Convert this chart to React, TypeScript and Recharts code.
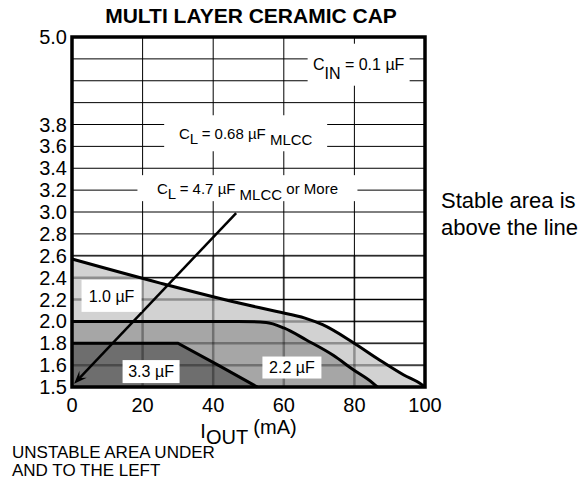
import React from "react";
import {
  ComposedChart,
  Area,
  XAxis,
  YAxis,
  CartesianGrid,
  ReferenceLine,
  ReferenceArea,
  ReferenceDot,
} from "recharts";

const currentTicks = [0, 20, 40, 60, 80, 100];
// the chart's vertical scale is not linear: every gridline is one equal step
const voltTicks = [1.5, 1.6, 1.8, 2.0, 2.2, 2.4, 2.6, 2.8, 3.0, 3.2, 3.4, 3.6, 3.8, 4.1, 4.4, 4.7, 5.0];
const voltLabels = ["1.5", "1.6", "1.8", "2.0", "2.2", "2.4", "2.6", "2.8", "3.0", "3.2", "3.4", "3.6", "3.8", "", "", "", "5.0"];

// unstable region edges, [I_OUT mA, V]
const cap1u0 = [[0, 2.57], [25, 2.35], [47, 2.17], [58, 2.09], [66, 2.03], [71, 1.97], [79.5, 1.81], [87, 1.65], [94, 1.555], [99, 1.512], [100, 1.5]];
const cap2u2 = [[0, 2.0], [47, 2.0], [55, 1.99], [60, 1.94], [66.4, 1.83], [74, 1.69], [79.6, 1.58], [85.3, 1.517], [86.5, 1.5]];
const cap3u3 = [[0, 1.8], [30, 1.8], [41.4, 1.6], [52.5, 1.5]];
const arrowPts = [[46.5, 2.99], [0.6, 1.515]];

const FONT = "'Liberation Sans', Arial, sans-serif";

const pos = (v: number) => {
  for (let k = 0; k < voltTicks.length - 1; k++) {
    const a = voltTicks[k];
    const b = voltTicks[k + 1];
    if (v <= b) return k + (v - a) / (b - a);
  }
  return voltTicks.length - 1;
};
const toRows = (pts: number[][]) => pts.map(([x, v]) => ({ x, y: pos(v) }));

const notes = [
  { x: 81.2, v: 4.62, w: 102, h: 42, fs: 16, parts: [["C", 0], ["IN", 9], [" = 0.1 µF", 0]] },
  { x: 49.2, v: 3.72, w: 163, h: 36, fs: 15, parts: [["C", 0], ["L", 5], [" = 0.68 µF ", 0], ["MLCC", 6]] },
  { x: 49.7, v: 3.218, w: 220, h: 26, fs: 15, parts: [["C", 0], ["L", 5], [" = 4.7 µF ", 0], ["MLCC", 6], [" or More", 0]] },
  { x: 11.2, v: 2.233, w: 60, h: 32, fs: 16, parts: [["1.0 µF", 0]] },
  { x: 22.4, v: 1.5705, w: 57, h: 23, fs: 16, parts: [["3.3 µF", 0]] },
  { x: 62.3, v: 1.589, w: 59, h: 22, fs: 16, parts: [["2.2 µF", 0]] },
];

const noteShape = (n: any) => (props: any) => {
  const { cx, cy } = props;
  let prev = 0;
  return (
    <g>
      <rect x={cx - n.w / 2} y={cy - n.h / 2} width={n.w} height={n.h} fill="#fff" />
      <text x={cx} y={cy + n.fs * 0.36} textAnchor="middle" fontSize={n.fs} fill="#000" style={{ whiteSpace: "pre" }}>
        {n.parts.map(([s, off]: any, i: number) => {
          const dy = off - prev;
          prev = off;
          return (
            <tspan key={i} dy={dy}>
              {s}
            </tspan>
          );
        })}
      </text>
    </g>
  );
};

const ArrowShape = (props: any) => {
  const { x1, y1, x2, y2 } = props;
  const ang = Math.atan2(y2 - y1, x2 - x1);
  const len = 13;
  const wid = 5;
  const bx = x2 - len * Math.cos(ang);
  const by = y2 - len * Math.sin(ang);
  const px = -Math.sin(ang) * wid;
  const py = Math.cos(ang) * wid;
  const nx = x2 - len * 0.6 * Math.cos(ang);
  const ny = y2 - len * 0.6 * Math.sin(ang);
  return (
    <g>
      <line x1={x1} y1={y1} x2={nx} y2={ny} stroke="#000" strokeWidth={2.5} />
      <polygon points={`${x2},${y2} ${bx + px},${by + py} ${nx},${ny} ${bx - px},${by - py}`} fill="#000" />
    </g>
  );
};

// faint grid that shows through the shaded lower part (covers 1.5 V .. 2.6 V)
const lowSteps = 6;
const OverGrid = (props: any) => {
  const { x, y, width, height } = props;
  const vx = currentTicks.slice(1, -1).map((t) => x + (width * t) / 100);
  const hy = Array.from({ length: lowSteps }, (_, k) => y + (height * k) / lowSteps);
  return (
    <g stroke="#000" strokeOpacity={0.32} strokeWidth={2.5} fill="none">
      {vx.map((px, i) => (
        <line key={"v" + i} x1={px} y1={y} x2={px} y2={y + height} />
      ))}
      {hy.map((py, i) => (
        <line key={"h" + i} x1={x} y1={py} x2={x + width} y2={py} />
      ))}
    </g>
  );
};

const XLabel = (props: any) => {
  const { viewBox } = props;
  const cx = viewBox.x + viewBox.width / 2;
  const y = viewBox.y + 51;
  return (
    <text x={cx} y={y} textAnchor="middle" fontSize={20} fill="#000" style={{ whiteSpace: "pre" }}>
      <tspan>I</tspan>
      <tspan dy={6}>OUT</tspan>
      <tspan dy={-10}> (mA)</tspan>
    </text>
  );
};

export default function App() {
  const yIdx = voltTicks.map((_, i) => i);
  return (
    <div style={{ position: "absolute", left: 0, top: 0, width: 583, height: 481, background: "#fff", fontFamily: FONT, color: "#000" }}>
      <div style={{ position: "absolute", left: 0, width: 502, top: 5, fontSize: 21, lineHeight: "21px", fontWeight: "bold", textAlign: "center" }}>
        MULTI LAYER CERAMIC CAP
      </div>
      <ComposedChart width={583} height={481} margin={{ top: 37, right: 158, bottom: 64, left: 0 }}>
        <CartesianGrid stroke="#000" strokeWidth={1} />
        <XAxis
          type="number"
          dataKey="x"
          domain={[0, 100]}
          ticks={currentTicks}
          interval={0}
          tickSize={0}
          tickMargin={11}
          axisLine={false}
          height={30}
          tick={{ fill: "#000", fontSize: 20 }}
          label={<XLabel />}
        />
        <YAxis
          type="number"
          domain={[0, voltTicks.length - 1]}
          ticks={yIdx}
          interval={0}
          tickFormatter={(i: number) => voltLabels[i]}
          width={72}
          tickSize={0}
          tickMargin={5}
          axisLine={false}
          tick={{ fill: "#000", fontSize: 20 }}
        />
        <Area data={toRows(cap1u0)} dataKey="y" type="monotone" fill="#d2d2d2" fillOpacity={1} stroke="#000" strokeWidth={3} isAnimationActive={false} />
        <Area data={toRows(cap2u2)} dataKey="y" type="monotone" fill="#a6a6a6" fillOpacity={1} stroke="#000" strokeWidth={3} isAnimationActive={false} />
        <Area data={toRows(cap3u3)} dataKey="y" type="linear" fill="#6e6e6e" fillOpacity={1} stroke="#000" strokeWidth={3} isAnimationActive={false} />
        <ReferenceArea x1={0} x2={100} y1={0} y2={pos(2.6)} shape={<OverGrid />} />
        {notes.map((n, i) => (
          <ReferenceDot key={"n" + i} x={n.x} y={pos(n.v)} r={1} shape={noteShape(n)} />
        ))}
        <ReferenceLine segment={arrowPts.map(([x, v]) => ({ x, y: pos(v) }))} shape={ArrowShape} />
        <ReferenceArea x1={0} x2={100} y1={0} y2={voltTicks.length - 1} fill="none" fillOpacity={0} stroke="#000" strokeWidth={3.5} />
      </ComposedChart>
      <div style={{ position: "absolute", left: 12, top: 444, fontSize: 17, lineHeight: "18px" }}>
        UNSTABLE AREA UNDER
        <br />
        AND TO THE LEFT
      </div>
      <div style={{ position: "absolute", left: 441, top: 187, fontSize: 22, lineHeight: "27px" }}>
        Stable area is
        <br />
        above the line
      </div>
    </div>
  );
}
